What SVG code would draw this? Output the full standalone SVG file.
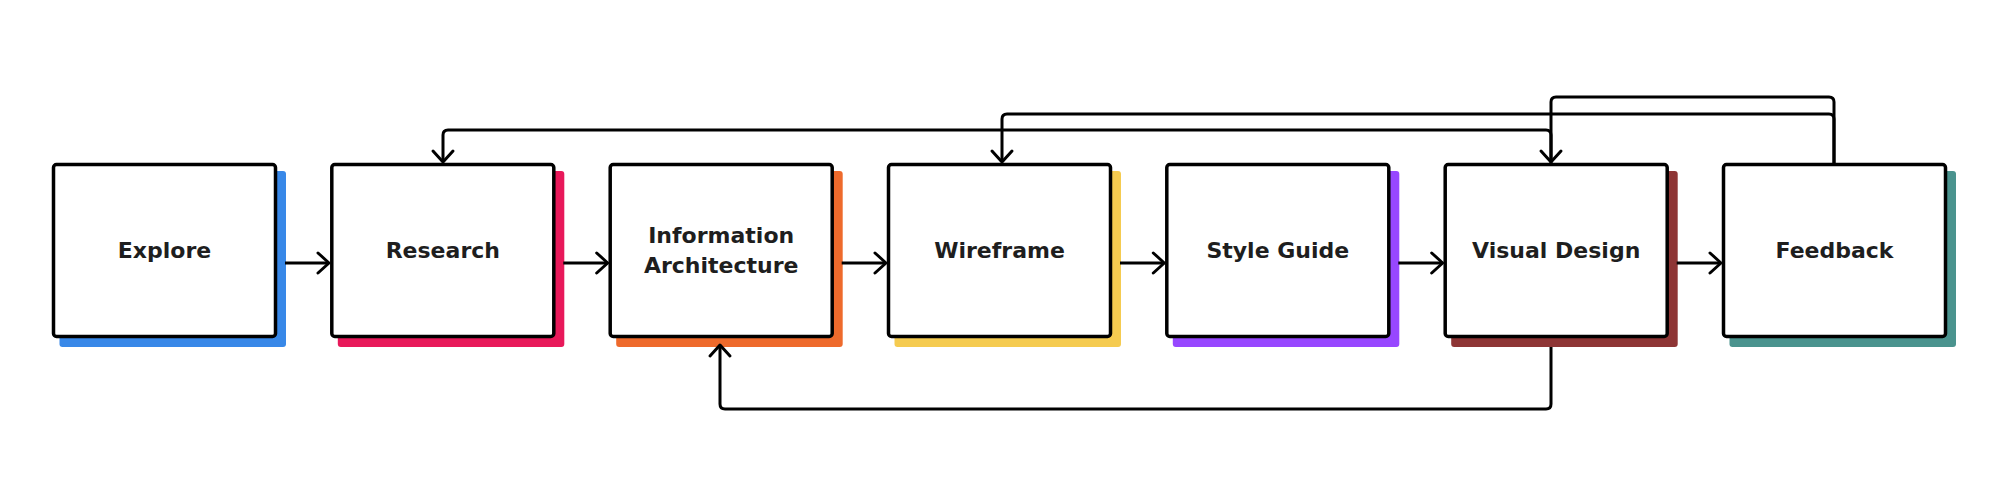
<svg xmlns="http://www.w3.org/2000/svg" width="2000" height="501" viewBox="0 0 2000 501">
<style>
.bg{fill:#ffffff}
.box{fill:#ffffff;stroke:#000;stroke-width:3.5}
.lbl{font-family:"DejaVu Sans","Liberation Sans",sans-serif;font-weight:700;font-size:22px;fill:#1e1e1e;text-anchor:middle}
.edge{fill:none;stroke:#000;stroke-width:3;stroke-linejoin:round}
</style>
<defs>
<marker id="arr" markerUnits="userSpaceOnUse" markerWidth="30" markerHeight="30" viewBox="-15 -15 30 30" refX="0" refY="0" orient="auto">
<path d="M-11,-10 L0,0 L-11,10" fill="none" stroke="#000" stroke-width="3" stroke-linecap="round" stroke-linejoin="round"/>
</marker>
</defs>
<rect class="bg" x="0" y="0" width="2000" height="501"/>
<g id="node-explore">
<rect x="59.5" y="171" width="226.5" height="176" rx="3" fill="#3888E8"/>
<rect class="box" x="53.5" y="164.5" width="222" height="172" rx="3"/>
<text class="lbl" x="164.5" y="258">Explore</text>
</g>
<g id="node-research">
<rect x="337.8" y="171" width="226.5" height="176" rx="3" fill="#E8195A"/>
<rect class="box" x="331.8" y="164.5" width="222" height="172" rx="3"/>
<text class="lbl" x="442.8" y="258">Research</text>
</g>
<g id="node-ia">
<rect x="616.2" y="171" width="226.5" height="176" rx="3" fill="#EE6A2C"/>
<rect class="box" x="610.2" y="164.5" width="222" height="172" rx="3"/>
<text class="lbl" x="721.2" y="243">Information</text>
<text class="lbl" x="721.2" y="273">Architecture</text>
</g>
<g id="node-wireframe">
<rect x="894.5" y="171" width="226.5" height="176" rx="3" fill="#F5CB50"/>
<rect class="box" x="888.5" y="164.5" width="222" height="172" rx="3"/>
<text class="lbl" x="999.5" y="258">Wireframe</text>
</g>
<g id="node-styleguide">
<rect x="1172.8" y="171" width="226.5" height="176" rx="3" fill="#9747FF"/>
<rect class="box" x="1166.8" y="164.5" width="222" height="172" rx="3"/>
<text class="lbl" x="1277.8" y="258">Style Guide</text>
</g>
<g id="node-visualdesign">
<rect x="1451.2" y="171" width="226.5" height="176" rx="3" fill="#8E3535"/>
<rect class="box" x="1445.2" y="164.5" width="222" height="172" rx="3"/>
<text class="lbl" x="1556.2" y="258">Visual Design</text>
</g>
<g id="node-feedback">
<rect x="1729.5" y="171" width="226.5" height="176" rx="3" fill="#4A938E"/>
<rect class="box" x="1723.5" y="164.5" width="222" height="172" rx="3"/>
<text class="lbl" x="1834.5" y="258">Feedback</text>
</g>
<g id="connectors">
<path class="edge" d="M285,263 H329" marker-end="url(#arr)"/>
<path class="edge" d="M563.3,263 H607.7" marker-end="url(#arr)"/>
<path class="edge" d="M841.7,263 H886" marker-end="url(#arr)"/>
<path class="edge" d="M1120,263 H1164.3" marker-end="url(#arr)"/>
<path class="edge" d="M1398.3,263 H1442.7" marker-end="url(#arr)"/>
<path class="edge" d="M1676.7,263 H1721" marker-end="url(#arr)"/>
<path class="edge" d="M1834,163 V102 Q1834,97 1829,97 H1556 Q1551,97 1551,102 V162" marker-end="url(#arr)"/>
<path class="edge" d="M1834,163 V119 Q1834,114 1829,114 H1007 Q1002,114 1002,119 V162" marker-end="url(#arr)"/>
<path class="edge" d="M1551,163 V135 Q1551,130 1546,130 H448 Q443,130 443,135 V162" marker-end="url(#arr)"/>
<path class="edge" d="M1551,347 V404 Q1551,409 1546,409 H725 Q720,409 720,404 V345" marker-end="url(#arr)"/>
</g>
</svg>
